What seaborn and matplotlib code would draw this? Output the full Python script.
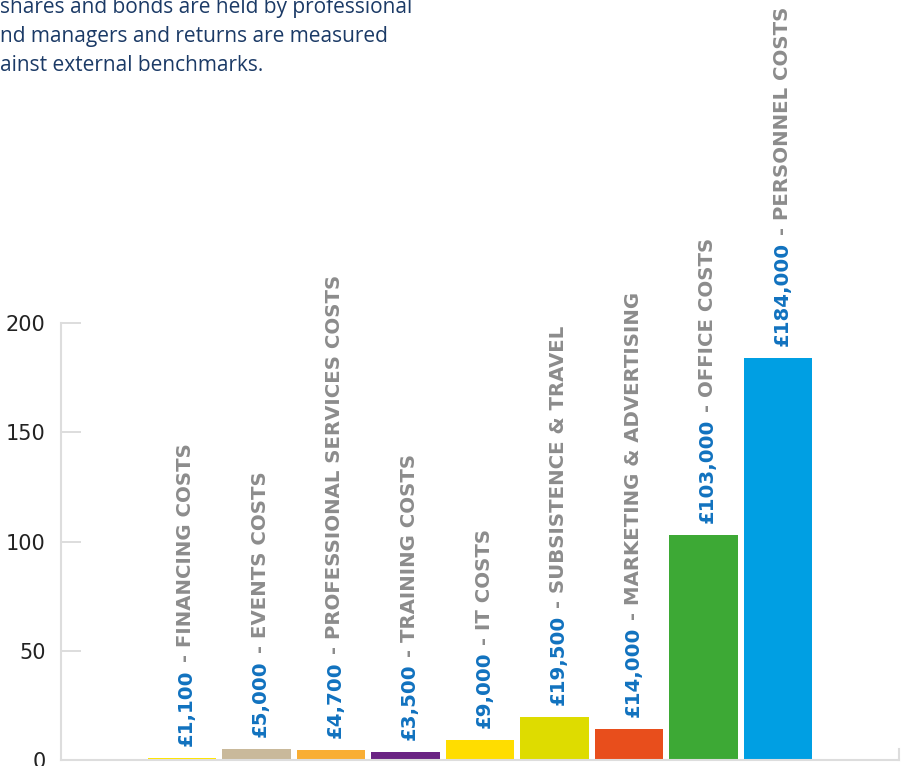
import matplotlib
matplotlib.use("Agg")
import matplotlib.pyplot as plt
import seaborn as sns
import pandas as pd

categories = ["FINANCING COSTS", "EVENTS COSTS", "PROFESSIONAL SERVICES COSTS",
              "TRAINING COSTS", "IT COSTS", "SUBSISTENCE & TRAVEL",
              "MARKETING & ADVERTISING", "OFFICE COSTS", "PERSONNEL COSTS"]
values_k = [1.1, 5.0, 4.7, 3.5, 9.0, 19.5, 14.0, 103.0, 184.0]
value_labels = ["£1,100", "£5,000", "£4,700", "£3,500", "£9,000", "£19,500",
                "£14,000", "£103,000", "£184,000"]
bar_colors = ["#FFE500", "#C9B99B", "#F9AE34", "#6A2383", "#FFDD00",
              "#DEDC00", "#E84E1C", "#3DA935", "#009FE3"]
y_ticks = [0, 50, 100, 150, 200]
intro_lines = ["shares and bonds are held by professional",
               "nd managers and returns are measured",
               "ainst external benchmarks."]

sns.set_style("white")
plt.rcParams["font.family"] = ["DejaVu Sans"]

DPI = 100
W, H = 902, 766
fig = plt.figure(figsize=(W / DPI, H / DPI), dpi=DPI)
ax = fig.add_axes([61 / W, 6 / H, (899 - 61) / W, 760 / H])

df = pd.DataFrame({"cat": categories, "val": values_k})
sns.barplot(data=df, x="cat", y="val", hue="cat", palette=bar_colors,
            legend=False, width=0.913, saturation=1, ax=ax, linewidth=0)

ax.set_xlim(-1.624, 9.624)
ax.set_ylim(0, 760 / 2.185)
ax.set_xlabel("")
ax.set_ylabel("")
ax.set_xticks([])
ax.set_yticks(y_ticks)
ax.set_yticklabels([str(t) for t in y_ticks], fontsize=15, color="#222222")
ax.tick_params(axis="y", direction="in", length=14.4, width=1.4,
               color="#DDDDDD", pad=11, left=True)

ax.spines["top"].set_visible(False)
for side in ["left", "bottom", "right"]:
    ax.spines[side].set_visible(True)
    ax.spines[side].set_color("#DDDDDD")
    ax.spines[side].set_linewidth(1.5)
ax.spines["left"].set_bounds(0, 200)
ax.spines["right"].set_bounds(0, 5)

fig.canvas.draw()
renderer = fig.canvas.get_renderer()
gap_px = 12
fs = 14.2
lab_font = ["DejaVu Sans"]
for i, (v, vl, cat) in enumerate(zip(values_k, value_labels, categories)):
    t1 = ax.annotate(vl, xy=(i, v), xytext=(4 * 72 / DPI, gap_px * 72 / DPI),
                     textcoords="offset points", rotation=90, ha="center",
                     va="bottom", fontsize=fs, fontweight="bold",
                     color="#1172BF", family=lab_font)
    bb = t1.get_window_extent(renderer)
    ax.annotate(" - " + cat, xy=(i, v),
                xytext=(4 * 72 / DPI, (gap_px + bb.height) * 72 / DPI),
                textcoords="offset points", rotation=90, ha="center",
                va="bottom", fontsize=fs, fontweight="bold", color="#8C8C8C",
                family=lab_font)

for k, line in enumerate(intro_lines):
    fig.text(0.0, 1 - (13 + 29 * k) / H, line, ha="left", va="baseline",
             fontsize=15, color="#1B3A66", family="Open Sans")

fig.savefig("out.png", dpi=DPI)
